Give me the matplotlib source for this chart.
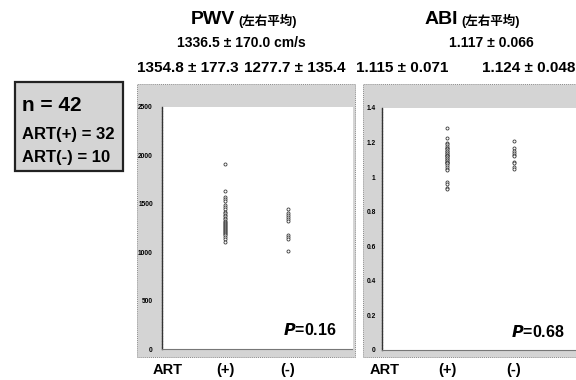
import matplotlib

matplotlib.use("Agg")
import matplotlib.pyplot as plt
from matplotlib.patches import Rectangle

plt.rcParams["font.family"] = ["Liberation Sans", "Noto Sans CJK JP", "DejaVu Sans"]
plt.rcParams["font.weight"] = "bold"

W, H = 576, 380

groups = ["(+)", "(-)"]

# PWV, mean of left and right (cm/s)
pwv_pos = [1911, 1630, 1575, 1545, 1530, 1490, 1470, 1450, 1420, 1400,
           1385, 1370, 1355, 1340, 1325, 1310, 1300, 1290, 1280, 1270,
           1260, 1250, 1240, 1230, 1220, 1210, 1200, 1190, 1175, 1160,
           1140, 1110]
pwv_neg = [1450, 1400, 1380, 1360, 1340, 1320, 1180, 1160, 1140, 1010]

# ABI, mean of left and right
abi_pos = [1.285, 1.225, 1.20, 1.19, 1.18, 1.17, 1.17, 1.16, 1.15, 1.15,
           1.14, 1.14, 1.13, 1.13, 1.12, 1.12, 1.11, 1.11, 1.10, 1.10,
           1.09, 1.09, 1.08, 1.08, 1.07, 1.06, 1.05, 1.04, 0.97, 0.96,
           0.94, 0.93]
abi_neg = [1.21, 1.17, 1.15, 1.14, 1.13, 1.12, 1.09, 1.08, 1.06, 1.05]

pwv_ticks = [0, 500, 1000, 1500, 2000, 2500]
pwv_ticklabels = ["0", "500", "1000", "1500", "2000", "2500"]
abi_ticks = [0, 0.2, 0.4, 0.6, 0.8, 1.0, 1.2, 1.4]
abi_ticklabels = ["0", "0.2", "0.4", "0.6", "0.8", "1", "1.2", "1.4"]

pwv_total = "1336.5 ± 170.0 cm/s"
abi_total = "1.117 ± 0.066"
pwv_groups = ["1354.8 ± 177.3", "1277.7 ± 135.4"]
abi_groups = ["1.115 ± 0.071", "1.124 ± 0.048"]
pwv_p = "0.16"
abi_p = "0.68"

n_total, n_pos, n_neg = 42, 32, 10

GRAY = "#d4d4d4"


def fx(x):
    return x / W


def fy(y):
    return 1 - y / H


def panel_box(fig, x0, y0, x1, y1):
    fig.patches.append(Rectangle((fx(x0), fy(y1)), fx(x1 - x0), (y1 - y0) / H,
                                 transform=fig.transFigure, facecolor=GRAY,
                                 edgecolor="#8a8a8a", linestyle=(0, (1, 1)),
                                 linewidth=0.7, zorder=-1))


def strip_axes(fig, x0, y0, x1, y1, xlim, ylim, ticks, labels, pad):
    ax = fig.add_axes([fx(x0), fy(y1), fx(x1 - x0), (y1 - y0) / H])
    ax.set_facecolor("white")
    ax.set_xlim(*xlim)
    ax.set_ylim(*ylim)
    ax.set_xticks([])
    ax.set_yticks(ticks)
    ax.set_yticklabels(labels, fontsize=4.8, fontweight="bold")
    ax.tick_params(axis="y", length=0, pad=pad)
    for side in ("top", "right"):
        ax.spines[side].set_visible(False)
    ax.spines["left"].set_linestyle((0, (1.2, 0.8)))
    ax.spines["left"].set_color("#333333")
    ax.spines["left"].set_linewidth(1.0)
    ax.spines["bottom"].set_linestyle((0, (1, 1)))
    ax.spines["bottom"].set_color("#777777")
    ax.spines["bottom"].set_linewidth(0.8)
    return ax


def dots(ax, x, values):
    ax.plot([x] * len(values), values, linestyle="none", marker="o", ms=2.2,
            mfc="white", mec="#3a3a3a", mew=0.6, clip_on=False)


fig = plt.figure(figsize=(W / 100, H / 100), dpi=100)

# n summary box
fig.patches.append(Rectangle((fx(15), fy(171)), fx(108), 89 / H,
                             transform=fig.transFigure, facecolor=GRAY,
                             edgecolor="#222222", linewidth=1.6, zorder=-1))
fig.text(fx(22), fy(105), f"n = {n_total}", fontsize=15, fontweight="bold",
         va="center", ha="left")
fig.text(fx(22), fy(134), f"ART(+) = {n_pos}", fontsize=12, fontweight="bold",
         va="center", ha="left")
fig.text(fx(22), fy(158), f"ART(-) = {n_neg}", fontsize=12, fontweight="bold",
         va="center", ha="left")

# PWV panel
panel_box(fig, 137, 84, 355, 357)
ax1 = strip_axes(fig, 162, 107, 353, 349, (0, 3.03), (0, 2500),
                 pwv_ticks, pwv_ticklabels, 6.5)
dots(ax1, 1, pwv_pos)
dots(ax1, 2, pwv_neg)
ax1.text(fx(337), fy(330), f"$\\boldsymbol{{P}}$={pwv_p}", transform=fig.transFigure,
         ha="right", va="center", fontsize=11.5, fontweight="bold")

# ABI panel
panel_box(fig, 363, 84, 580, 357)
ax2 = strip_axes(fig, 382, 108, 580, 350, (0.015, 3.0), (0, 1.4),
                 abi_ticks, abi_ticklabels, 4.5)
dots(ax2, 1, abi_pos)
dots(ax2, 2, abi_neg)
ax2.text(fx(565), fy(332), f"$\\boldsymbol{{P}}$={abi_p}", transform=fig.transFigure,
         ha="right", va="center", fontsize=11.5, fontweight="bold")

# headers
fig.text(fx(235), fy(20), "PWV", fontsize=14, fontweight="bold", ha="right", va="center")
fig.text(fx(238), fy(21), "(左右平均)", fontsize=9, fontweight="bold", ha="left", va="center")
fig.text(fx(241), fy(43), pwv_total, fontsize=10, fontweight="bold", ha="center", va="center")
fig.text(fx(458), fy(20), "ABI", fontsize=14, fontweight="bold", ha="right", va="center")
fig.text(fx(461), fy(21), "(左右平均)", fontsize=9, fontweight="bold", ha="left", va="center")
fig.text(fx(491), fy(43), abi_total, fontsize=10, fontweight="bold", ha="center", va="center")

fig.text(fx(137), fy(68), pwv_groups[0], fontsize=11, fontweight="bold", ha="left", va="center")
fig.text(fx(244), fy(68), pwv_groups[1], fontsize=11, fontweight="bold", ha="left", va="center")
fig.text(fx(356), fy(68), abi_groups[0], fontsize=11, fontweight="bold", ha="left", va="center")
fig.text(fx(575), fy(68), abi_groups[1], fontsize=11, fontweight="bold", ha="right", va="center")

# group labels under each strip
for ax, art_x in ((ax1, 168), (ax2, 385)):
    fig.text(fx(art_x), fy(370), "ART", fontsize=10.5, fontweight="bold", ha="center", va="center")
    for i, g in enumerate(groups):
        xd = ax.transData.transform((i + 1, 0))[0]
        fig.text(xd / fig.bbox.width, fy(370), g, fontsize=10.5, fontweight="bold",
                 ha="center", va="center")

fig.savefig("out.png", dpi=100)
